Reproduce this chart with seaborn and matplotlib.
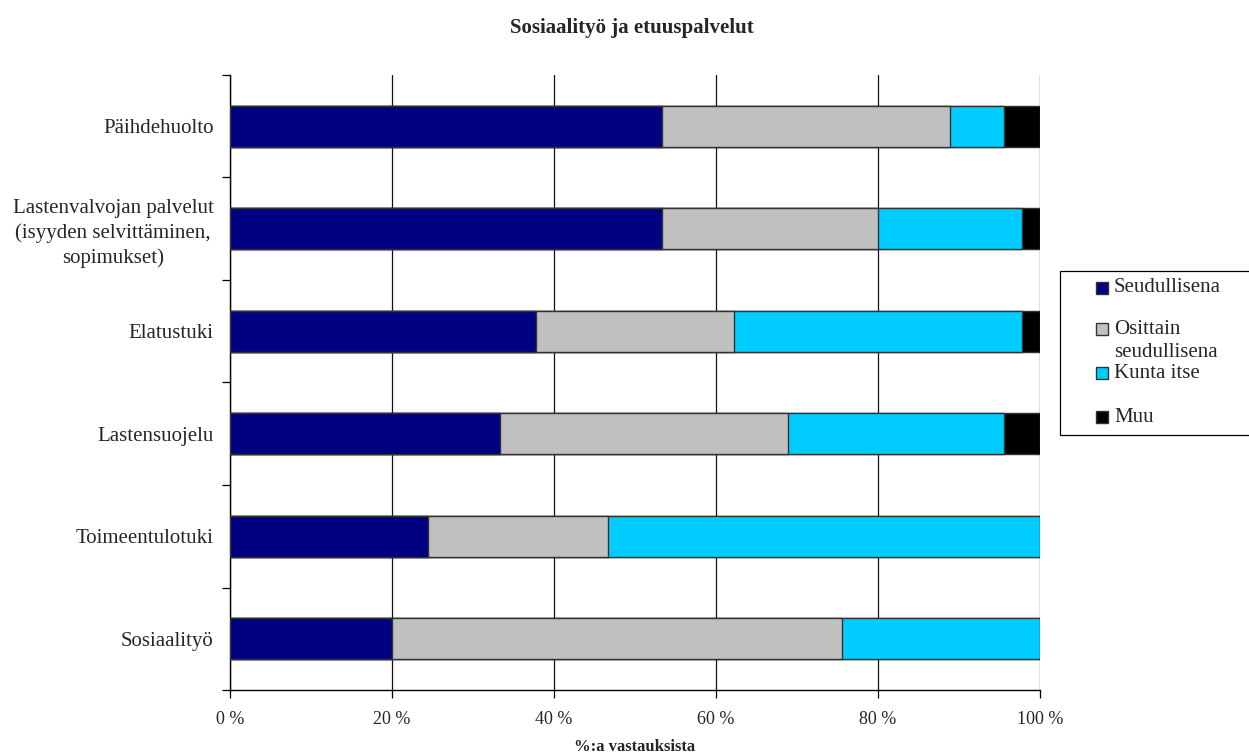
import matplotlib
matplotlib.use("Agg")
import matplotlib.pyplot as plt
from matplotlib.patches import Rectangle
import seaborn as sns
import pandas as pd
import numpy as np

categories = [
    "Päihdehuolto",
    "Lastenvalvojan palvelut\n(isyyden selvittäminen,\nsopimukset)",
    "Elatustuki",
    "Lastensuojelu",
    "Toimeentulotuki",
    "Sosiaalityö",
]
series_names = ["Seudullisena", "Osittain\nseudullisena", "Kunta itse", "Muu"]
seudullisena = [53.3, 53.3, 37.8, 33.3, 24.4, 20.0]
osittain = [35.6, 26.7, 24.4, 35.6, 22.2, 55.6]
kunta_itse = [6.7, 17.8, 35.6, 26.7, 53.3, 24.4]
muu = [4.4, 2.2, 2.2, 4.4, 0.0, 0.0]
colors = ["#000080", "#C0C0C0", "#00CCFF", "#000000"]
xticks = [0, 20, 40, 60, 80, 100]
xtick_labels = ["0 %", "20 %", "40 %", "60 %", "80 %", "100 %"]

sns.set_theme(style="white")
plt.rcParams["font.family"] = ["Liberation Serif", "DejaVu Serif"]

W, H = 1249, 756
fig = plt.figure(figsize=(W / 100, H / 100), dpi=100)
ax = fig.add_axes([0.1842, 0.0873, 0.6485, 0.8135])

values = np.array([seudullisena, osittain, kunta_itse, muu])
totals = values / values.sum(axis=0) * 100
cum = np.cumsum(totals, axis=0)

# Stacked bars: draw cumulative widths from the outermost segment inward
for i in range(len(series_names) - 1, -1, -1):
    df = pd.DataFrame({"category": categories, "value": cum[i]})
    sns.barplot(data=df, x="value", y="category", orient="h", color=colors[i],
                width=0.4, edgecolor="#333333", linewidth=1.0, saturation=1,
                ax=ax, zorder=3)

ax.set_xlim(0, 100)
ax.set_ylim(len(categories) - 0.5, -0.5)
ax.set_xticks(xticks)
ax.set_xticklabels(xtick_labels, fontsize=13)
ax.xaxis.grid(True, color="#111111", linewidth=0.9, zorder=0)
ax.yaxis.grid(False)
ax.set_axisbelow(True)

ax.set_yticks(range(len(categories)))
ax.set_yticklabels(categories, fontsize=15)
for lbl in ax.get_yticklabels():
    lbl.set_multialignment("center")
    lbl.set_linespacing(1.36)
ax.set_yticks(np.arange(-0.5, len(categories), 1.0), minor=True)
ax.tick_params(axis="y", which="major", length=0, pad=12)
ax.tick_params(axis="y", which="minor", length=6, width=0.9, color="black", direction="out", left=True)
ax.tick_params(axis="x", which="major", length=6, width=0.9, color="black", direction="out",
               bottom=True, pad=9)

for side in ["top", "right"]:
    ax.spines[side].set_visible(False)
for side in ["left", "bottom"]:
    ax.spines[side].set_color("black")
    ax.spines[side].set_linewidth(1.0)

ax.set_ylabel("")
ax.set_xlabel("%:a vastauksista", fontsize=12, fontweight="bold", labelpad=8)
fig.text(0.506, 1 - 28 / H, "Sosiaalityö ja etuuspalvelut", ha="center", va="center",
         fontsize=15, fontweight="bold")


def fx(px):
    return px / W


def fy(py):
    return 1 - py / H


# Legend box, built from figure-level patches and texts
frame = Rectangle((fx(1060), fy(435)), fx(1300) - fx(1060), fy(271) - fy(435),
                  transform=fig.transFigure, facecolor="white", edgecolor="black",
                  linewidth=0.9, zorder=5)
fig.add_artist(frame)
patch_rows = [288, 329, 373, 417]
text_rows = [288, 341, 373, 417]
for name, color, py, ty in zip(series_names, colors, patch_rows, text_rows):
    sq = Rectangle((fx(1096), fy(py + 6)), fx(12), 12 / H, transform=fig.transFigure,
                   facecolor=color, edgecolor="#333333", linewidth=1.0, zorder=6)
    fig.add_artist(sq)
    fig.text(fx(1114), fy(ty), name, ha="left", va="center", fontsize=15,
             linespacing=1.25, zorder=7)

fig.savefig("out.png", dpi=100)
